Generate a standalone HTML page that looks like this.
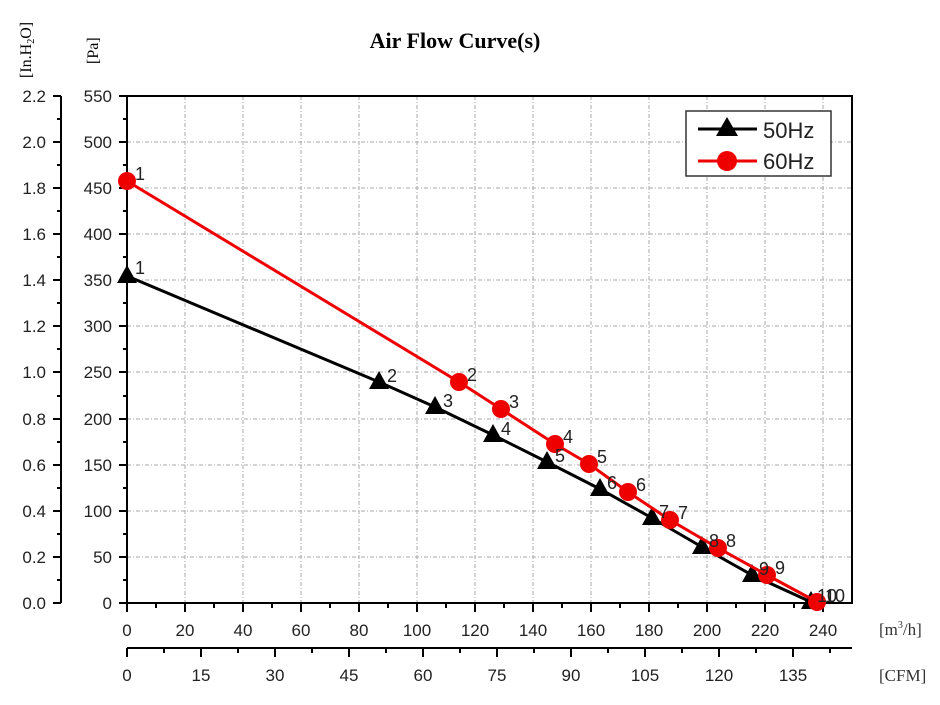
<!DOCTYPE html>
<html><head><meta charset="utf-8"><style>
body{margin:0;background:#fff;}
svg{display:block;font-family:"Liberation Sans",Arial,sans-serif;}
.s{font-family:"Liberation Serif",serif;}
</style></head><body>
<svg width="940" height="705" viewBox="0 0 940 705" xmlns="http://www.w3.org/2000/svg">
<text x="455" y="48" class="s" font-size="22" font-weight="bold" text-anchor="middle">Air Flow Curve(s)</text>
<text class="s" font-size="16" transform="translate(31,78) rotate(-90)">[In.H<tspan font-size="10" dy="3">2</tspan><tspan dy="-3">O]</tspan></text>
<text class="s" font-size="16" transform="translate(98,64) rotate(-90)">[Pa]</text>
<g stroke="#aaa" stroke-width="1" stroke-dasharray="4,2,1,2">
<line x1="127" x2="852" y1="557" y2="557"/><line x1="127" x2="852" y1="511" y2="511"/><line x1="127" x2="852" y1="465" y2="465"/><line x1="127" x2="852" y1="419" y2="419"/><line x1="127" x2="852" y1="372" y2="372"/><line x1="127" x2="852" y1="326" y2="326"/><line x1="127" x2="852" y1="280" y2="280"/><line x1="127" x2="852" y1="234" y2="234"/><line x1="127" x2="852" y1="188" y2="188"/><line x1="127" x2="852" y1="142" y2="142"/>
<line y1="96" y2="603" x1="185" x2="185"/><line y1="96" y2="603" x1="243" x2="243"/><line y1="96" y2="603" x1="301" x2="301"/><line y1="96" y2="603" x1="359" x2="359"/><line y1="96" y2="603" x1="417" x2="417"/><line y1="96" y2="603" x1="475" x2="475"/><line y1="96" y2="603" x1="533" x2="533"/><line y1="96" y2="603" x1="591" x2="591"/><line y1="96" y2="603" x1="649" x2="649"/><line y1="96" y2="603" x1="707" x2="707"/><line y1="96" y2="603" x1="765" x2="765"/><line y1="96" y2="603" x1="823" x2="823"/>
</g>
<rect x="127" y="96" width="725" height="507" fill="none" stroke="#000" stroke-width="2"/>
<g stroke="#000" stroke-width="2">
<line x1="119" x2="127" y1="603" y2="603"/><line x1="119" x2="127" y1="557" y2="557"/><line x1="119" x2="127" y1="511" y2="511"/><line x1="119" x2="127" y1="465" y2="465"/><line x1="119" x2="127" y1="419" y2="419"/><line x1="119" x2="127" y1="372" y2="372"/><line x1="119" x2="127" y1="326" y2="326"/><line x1="119" x2="127" y1="280" y2="280"/><line x1="119" x2="127" y1="234" y2="234"/><line x1="119" x2="127" y1="188" y2="188"/><line x1="119" x2="127" y1="142" y2="142"/><line x1="119" x2="127" y1="96" y2="96"/>
<line x1="123" x2="127" y1="580" y2="580"/><line x1="123" x2="127" y1="534" y2="534"/><line x1="123" x2="127" y1="488" y2="488"/><line x1="123" x2="127" y1="442" y2="442"/><line x1="123" x2="127" y1="396" y2="396"/><line x1="123" x2="127" y1="349" y2="349"/><line x1="123" x2="127" y1="303" y2="303"/><line x1="123" x2="127" y1="257" y2="257"/><line x1="123" x2="127" y1="211" y2="211"/><line x1="123" x2="127" y1="165" y2="165"/><line x1="123" x2="127" y1="119" y2="119"/>
<line x1="61" x2="61" y1="96" y2="603"/>
<line x1="53" x2="61" y1="603" y2="603"/><line x1="53" x2="61" y1="557" y2="557"/><line x1="53" x2="61" y1="511" y2="511"/><line x1="53" x2="61" y1="465" y2="465"/><line x1="53" x2="61" y1="419" y2="419"/><line x1="53" x2="61" y1="372" y2="372"/><line x1="53" x2="61" y1="326" y2="326"/><line x1="53" x2="61" y1="280" y2="280"/><line x1="53" x2="61" y1="234" y2="234"/><line x1="53" x2="61" y1="188" y2="188"/><line x1="53" x2="61" y1="142" y2="142"/><line x1="53" x2="61" y1="96" y2="96"/>
<line x1="57" x2="61" y1="580" y2="580"/><line x1="57" x2="61" y1="534" y2="534"/><line x1="57" x2="61" y1="488" y2="488"/><line x1="57" x2="61" y1="442" y2="442"/><line x1="57" x2="61" y1="396" y2="396"/><line x1="57" x2="61" y1="349" y2="349"/><line x1="57" x2="61" y1="303" y2="303"/><line x1="57" x2="61" y1="257" y2="257"/><line x1="57" x2="61" y1="211" y2="211"/><line x1="57" x2="61" y1="165" y2="165"/><line x1="57" x2="61" y1="119" y2="119"/>
<line y1="603" y2="612" x1="127" x2="127"/><line y1="603" y2="612" x1="185" x2="185"/><line y1="603" y2="612" x1="243" x2="243"/><line y1="603" y2="612" x1="301" x2="301"/><line y1="603" y2="612" x1="359" x2="359"/><line y1="603" y2="612" x1="417" x2="417"/><line y1="603" y2="612" x1="475" x2="475"/><line y1="603" y2="612" x1="533" x2="533"/><line y1="603" y2="612" x1="591" x2="591"/><line y1="603" y2="612" x1="649" x2="649"/><line y1="603" y2="612" x1="707" x2="707"/><line y1="603" y2="612" x1="765" x2="765"/><line y1="603" y2="612" x1="823" x2="823"/>
<line y1="603" y2="608" x1="156" x2="156"/><line y1="603" y2="608" x1="214" x2="214"/><line y1="603" y2="608" x1="272" x2="272"/><line y1="603" y2="608" x1="330" x2="330"/><line y1="603" y2="608" x1="388" x2="388"/><line y1="603" y2="608" x1="446" x2="446"/><line y1="603" y2="608" x1="504" x2="504"/><line y1="603" y2="608" x1="562" x2="562"/><line y1="603" y2="608" x1="620" x2="620"/><line y1="603" y2="608" x1="678" x2="678"/><line y1="603" y2="608" x1="736" x2="736"/><line y1="603" y2="608" x1="794" x2="794"/>
<line x1="127" x2="852" y1="648" y2="648"/>
<line y1="648" y2="657" x1="127" x2="127"/><line y1="648" y2="657" x1="201" x2="201"/><line y1="648" y2="657" x1="275" x2="275"/><line y1="648" y2="657" x1="349" x2="349"/><line y1="648" y2="657" x1="423" x2="423"/><line y1="648" y2="657" x1="497" x2="497"/><line y1="648" y2="657" x1="571" x2="571"/><line y1="648" y2="657" x1="645" x2="645"/><line y1="648" y2="657" x1="719" x2="719"/><line y1="648" y2="657" x1="793" x2="793"/>
<line y1="648" y2="653" x1="164" x2="164"/><line y1="648" y2="653" x1="238" x2="238"/><line y1="648" y2="653" x1="312" x2="312"/><line y1="648" y2="653" x1="386" x2="386"/><line y1="648" y2="653" x1="460" x2="460"/><line y1="648" y2="653" x1="534" x2="534"/><line y1="648" y2="653" x1="608" x2="608"/><line y1="648" y2="653" x1="682" x2="682"/><line y1="648" y2="653" x1="756" x2="756"/><line y1="648" y2="653" x1="830" x2="830"/>
</g>
<g font-size="17" fill="#222" text-anchor="end">
<text x="112" y="609">0</text><text x="112" y="563">50</text><text x="112" y="517">100</text><text x="112" y="471">150</text><text x="112" y="425">200</text><text x="112" y="378">250</text><text x="112" y="332">300</text><text x="112" y="286">350</text><text x="112" y="240">400</text><text x="112" y="194">450</text><text x="112" y="148">500</text><text x="112" y="102">550</text>
<text x="46" y="609">0.0</text><text x="46" y="563">0.2</text><text x="46" y="517">0.4</text><text x="46" y="471">0.6</text><text x="46" y="425">0.8</text><text x="46" y="378">1.0</text><text x="46" y="332">1.2</text><text x="46" y="286">1.4</text><text x="46" y="240">1.6</text><text x="46" y="194">1.8</text><text x="46" y="148">2.0</text><text x="46" y="102">2.2</text>
</g>
<g font-size="17" fill="#222" text-anchor="middle">
<text x="127" y="636">0</text><text x="185" y="636">20</text><text x="243" y="636">40</text><text x="301" y="636">60</text><text x="359" y="636">80</text><text x="417" y="636">100</text><text x="475" y="636">120</text><text x="533" y="636">140</text><text x="591" y="636">160</text><text x="649" y="636">180</text><text x="707" y="636">200</text><text x="765" y="636">220</text><text x="823" y="636">240</text>
<text x="127" y="681">0</text><text x="201" y="681">15</text><text x="275" y="681">30</text><text x="349" y="681">45</text><text x="423" y="681">60</text><text x="497" y="681">75</text><text x="571" y="681">90</text><text x="645" y="681">105</text><text x="719" y="681">120</text><text x="793" y="681">135</text>
</g>
<text x="879" y="635" class="s" font-size="17" fill="#333">[m<tspan font-size="10" dy="-7">3</tspan><tspan dy="7">/h]</tspan></text>
<text x="879" y="681" class="s" font-size="17" fill="#333">[CFM]</text>
<polyline fill="none" stroke="#000" stroke-width="3" points="127,276 379,382 435,407 493,435 547,462 600,489 652,518 702,547 752,575 811,602"/>
<g fill="#000">
<polygon points="127,265 137,283 117,283"/><polygon points="379,371 389,389 369,389"/><polygon points="435,396 445,414 425,414"/><polygon points="493,424 503,442 483,442"/><polygon points="547,451 557,469 537,469"/><polygon points="600,478 610,496 590,496"/><polygon points="652,507 662,525 642,525"/><polygon points="702,536 712,554 692,554"/><polygon points="752,564 762,582 742,582"/><polygon points="811,591 821,609 801,609"/>
</g>
<polyline fill="none" stroke="#e00" stroke-width="3" points="127,181 459,382 501,409 555,444 589,464 628,492 670,520 718,548 767,575 817,602"/>
<g fill="#e00">
<circle cx="127" cy="181" r="9"/><circle cx="459" cy="382" r="9"/><circle cx="501" cy="409" r="9"/><circle cx="555" cy="444" r="9"/><circle cx="589" cy="464" r="9"/><circle cx="628" cy="492" r="9"/><circle cx="670" cy="520" r="9"/><circle cx="718" cy="548" r="9"/><circle cx="767" cy="575" r="9"/><circle cx="817" cy="602" r="9"/>
</g>
<g font-size="18" fill="#222">
<text x="135" y="274">1</text><text x="387" y="382">2</text><text x="443" y="407">3</text><text x="501" y="435">4</text><text x="555" y="462">5</text><text x="607" y="489">6</text><text x="659" y="518">7</text><text x="709" y="547">8</text><text x="759" y="575">9</text><text x="817" y="602">10</text>
<text x="135" y="180">1</text><text x="467" y="381">2</text><text x="509" y="408">3</text><text x="563" y="443">4</text><text x="597" y="463">5</text><text x="636" y="491">6</text><text x="678" y="519">7</text><text x="726" y="547">8</text><text x="775" y="574">9</text><text x="825" y="602">10</text>
</g>
<rect x="686" y="111" width="145" height="65" fill="#fff" stroke="#333" stroke-width="1.5"/>
<line x1="698" x2="757" y1="129" y2="129" stroke="#000" stroke-width="3"/>
<polygon points="727,117 738,136 716,136" fill="#000"/>
<text x="763" y="138" font-size="22" fill="#222">50Hz</text>
<line x1="698" x2="757" y1="161" y2="161" stroke="#e00" stroke-width="3"/>
<circle cx="727" cy="161" r="10" fill="#e00"/>
<text x="763" y="169" font-size="22" fill="#222">60Hz</text>
</svg>
</body></html>
